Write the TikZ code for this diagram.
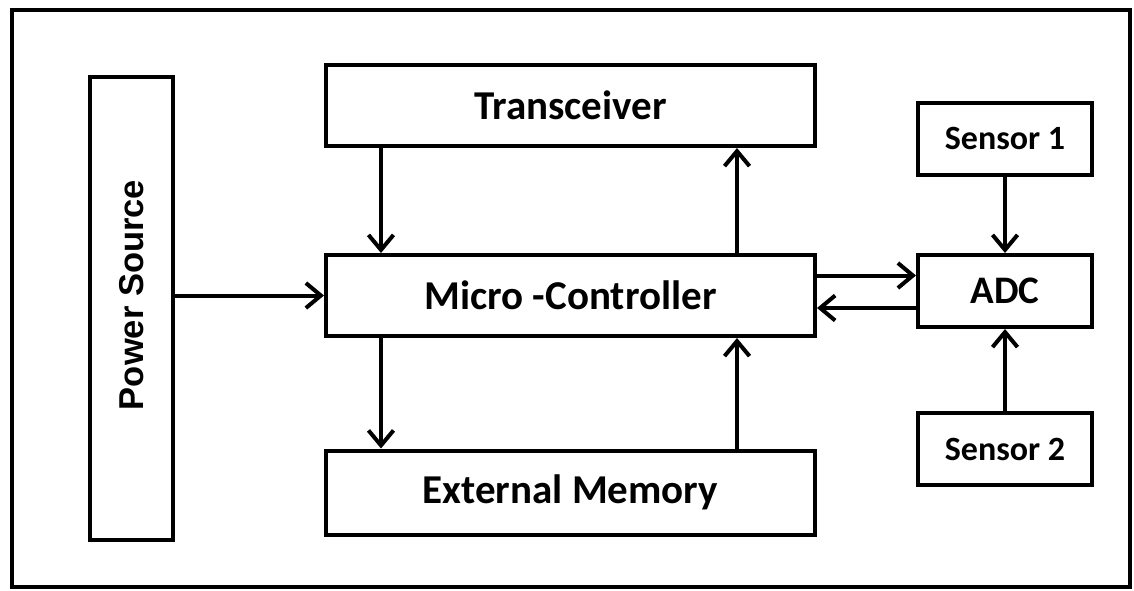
\documentclass[tikz,border=0pt]{standalone}
\usepackage{fontspec}
\setmainfont{Carlito}
\newfontfamily\arialfont{Liberation Sans}
\usetikzlibrary{arrows.meta}

\begin{document}
\begin{tikzpicture}[x=0.5pt,y=-0.5pt,
  blk/.style={draw,line width=2pt,rectangle,text centered,inner sep=0pt,minimum width=244.5pt,minimum height=40.5pt,font=\bfseries\fontsize{20.5}{24}\selectfont},
  sens/.style={blk,minimum width=87pt,minimum height=36pt,font=\bfseries\fontsize{17}{20}\selectfont},
  arr/.style={line width=2pt,-{Straight Barb[length=7.5pt,width=12.5pt]}}]

\useasboundingbox (0,0) rectangle (1134,590);
\draw[line width=1.8pt] (12,10) rectangle (1130,587);

\node[blk,rotate=90,minimum width=231.5pt,minimum height=41.5pt,font=\fontsize{17.25}{20}\selectfont\arialfont\bfseries] (power) at (131.5,308.5) {\hspace*{13.5pt}Power Source};

\node[blk] (trans) at (570.5,105.5) {Transceiver};
\node[blk] (micro) at (570.5,295.5) {Micro -Controller};
\node[blk,minimum height=42pt] (mem) at (570.5,492.5) {External Memory};

\node[sens] (sens1) at (1005,138.5) {Sensor 1};
\node[sens,font=\bfseries\fontsize{19.5}{22}\selectfont] (adc) at (1005,291) {ADC};
\node[sens] (sens2) at (1005,449) {Sensor 2};

\draw[arr] (power.south |- micro.west) -- (micro.west);
\draw[arr] ([xshift=28.5pt]trans.south west) -- ([xshift=28.5pt]micro.north west);
\draw[arr] ([xshift=-40pt]micro.north east) -- ([xshift=-40pt]trans.south east);
\draw[arr] ([xshift=28.5pt]micro.south west) -- ([xshift=28.5pt]mem.north west);
\draw[arr] ([xshift=-40pt]mem.north east) -- ([xshift=-40pt]micro.south east);
\draw[arr] ([yshift=10pt]micro.east) -- ([yshift=10pt]micro.east -| adc.west);
\draw[arr] ([yshift=-8.5pt]adc.west) -- ([yshift=-8.5pt]adc.west -| micro.east);
\draw[arr] (sens1) -- (adc);
\draw[arr] (sens2) -- (adc);

\end{tikzpicture}
\end{document}
